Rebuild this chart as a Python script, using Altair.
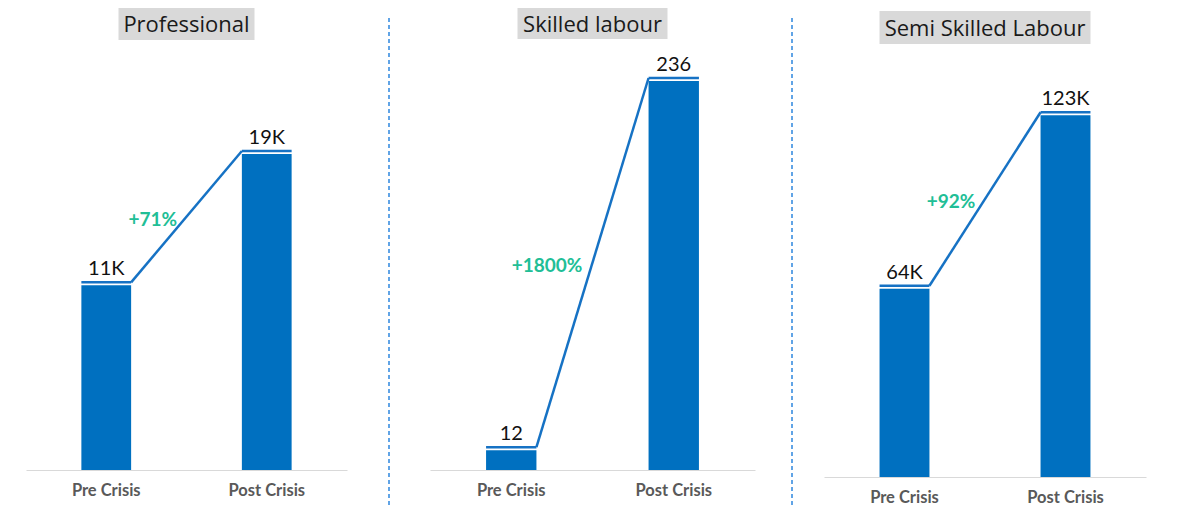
import altair as alt
import pandas as pd

# ---- data ----
PANELS = ["Professional", "Skilled labour", "Semi Skilled Labour"]
CATS = ["Pre Crisis", "Post Crisis"]
PRE = [11100, 12, 64000]
POST = [19000, 236, 123000]
PRE_LABELS = ["11K", "12", "64K"]
POST_LABELS = ["19K", "236", "123K"]
CHANGE_LABELS = ["+71%", "+1800%", "+92%"]

# ---- style ----
BAR = "#0070C0"
LINE = "#1672C4"
GREEN = "#21BE96"
SEP = "#2E86DE"
TITLE_BG = "#D9D9D9"

LAYOUT = [
    dict(width=363, height=420, x_range=[0, 321], ymax=25250, box_w=136, box_y=[-42, -10], sep=False),
    dict(width=403, height=420, x_range=[41, 366], ymax=254.8, box_w=150, box_y=[-42, -11], sep=True),
    dict(width=354, height=427, x_range=[32, 354], ymax=145200, box_w=211, box_y=[-39, -6], sep=True),
]


def panel(i):
    L = LAYOUT[i]
    long_df = pd.DataFrame({
        "cat": CATS,
        "value": [PRE[i], POST[i]],
        "label": [PRE_LABELS[i], POST_LABELS[i]],
    })
    wide_df = pd.DataFrame({
        "pre_cat": [CATS[0]],
        "post_cat": [CATS[1]],
        "pre": [PRE[i]],
        "post": [POST[i]],
        "change": [CHANGE_LABELS[i]],
    })
    title_df = pd.DataFrame({"title": [PANELS[i]]})

    xs = alt.Scale(domain=CATS, range=L["x_range"], paddingInner=0.69, paddingOuter=0.345)
    ys = alt.Scale(domain=[0, L["ymax"]], nice=False, zero=True)
    xaxis = alt.Axis(
        labelAngle=0, ticks=False, grid=False, domainColor="#D9D9D9", domainWidth=1,
        labelFont="Lato", labelFontWeight="bold", labelFontSize=16.5, labelColor="#595959",
        labelPadding=12,
    )

    def X(field, bp=None):
        kw = dict(type="nominal", scale=xs, axis=xaxis, title=None, sort=CATS)
        if bp is not None:
            kw["bandPosition"] = bp
        return alt.X(field, **kw)

    def Y(field):
        return alt.Y(field, type="quantitative", scale=ys, axis=None)

    base = alt.Chart(long_df)
    bars = base.mark_bar(color=BAR).encode(x=X("cat"), y=Y("value"))
    tops = base.mark_rule(color=LINE, strokeWidth=2.5, yOffset=-3).encode(
        x=X("cat", 0), x2=alt.X2("cat", bandPosition=1), y=Y("value")
    )
    diag = alt.Chart(wide_df).mark_rule(color=LINE, strokeWidth=2.5, yOffset=-3, y2Offset=-3).encode(
        x=X("pre_cat", 1), x2=alt.X2("post_cat", bandPosition=0), y=Y("pre"), y2=alt.Y2("post")
    )
    vals = base.mark_text(font="Lato", fontSize=20, color="#111111", baseline="alphabetic", dy=-10).encode(
        x=X("cat"), y=Y("value"), text="label:N"
    )
    change = alt.Chart(wide_df).transform_calculate(
        mid="(datum.pre + datum.post) / 2"
    ).mark_text(
        font="Lato", fontWeight="bold", fontSize=19, color=GREEN, align="right", baseline="middle", dx=46
    ).encode(x=X("pre_cat", 1), y=Y("mid"), text="change:N")

    cx = (L["x_range"][0] + L["x_range"][1]) / 2
    w = L["box_w"]
    tbox = alt.Chart(title_df).mark_rect(color=TITLE_BG).encode(
        x=alt.value(cx - w / 2), x2=alt.value(cx + w / 2),
        y=alt.value(L["box_y"][0]), y2=alt.value(L["box_y"][1]),
    )
    ttext = alt.Chart(title_df).mark_text(
        font="Open Sans", fontSize=22, color="#1A1A1A", baseline="middle", align="center"
    ).encode(
        x=alt.value(cx), y=alt.value((L["box_y"][0] + L["box_y"][1]) / 2 + 1), text="title:N"
    )
    layers = [tbox, ttext, bars, tops, diag, vals, change]
    if L["sep"]:
        sep = alt.Chart(title_df).mark_rule(color=SEP, strokeDash=[4, 3], strokeWidth=1.5).encode(
            x=alt.value(0), y=alt.value(-32), y2=alt.value(458)
        )
        layers.append(sep)
    return alt.layer(*layers).properties(width=L["width"], height=L["height"])


chart = alt.hconcat(*[panel(i) for i in range(3)], spacing=0, bounds="flush").properties(
    padding={"left": 18, "top": 0, "right": 5, "bottom": 0}
).configure_view(stroke=None)

chart.save("out.html", embed_options={"renderer": "svg", "actions": False})
